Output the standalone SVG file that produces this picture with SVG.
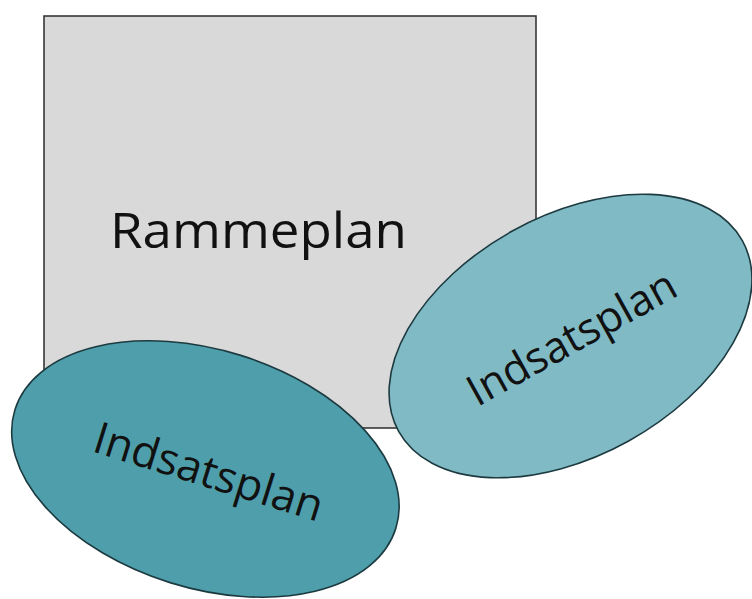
<svg xmlns="http://www.w3.org/2000/svg" width="752" height="599" viewBox="0 0 752 599">
  <style>
    .frame { fill: #d9d9d9; stroke: #2b2b2b; stroke-width: 1.5; }
    .plan { stroke: #1c3a40; stroke-width: 1.6; }
    .dark { fill: #4e9fab; }
    .light { fill: #80bac4; }
    .lbl { font-family: "Open Sans", "Noto Sans", sans-serif; fill: #111; }
  </style>
  <rect width="752" height="599" fill="#ffffff"/>
  <g id="rammeplan">
    <rect class="frame" x="44" y="16" width="492" height="412"/>
    <text class="lbl" x="110" y="248" font-size="50" textLength="297" lengthAdjust="spacingAndGlyphs">Rammeplan</text>
  </g>
  <g id="indsatsplan-right" transform="translate(570.5,336) rotate(-29)">
    <ellipse class="plan light" cx="0" cy="0" rx="196.5" ry="120"/>
    <text class="lbl" x="0" y="17" font-size="43" text-anchor="middle">Indsatsplan</text>
  </g>
  <g id="indsatsplan-left" transform="translate(205.4,469) rotate(17.3)">
    <ellipse class="plan dark" cx="0" cy="0" rx="199.5" ry="119"/>
    <text class="lbl" x="4" y="17" font-size="44" text-anchor="middle">Indsatsplan</text>
  </g>
  <g id="connectors"/>
</svg>
